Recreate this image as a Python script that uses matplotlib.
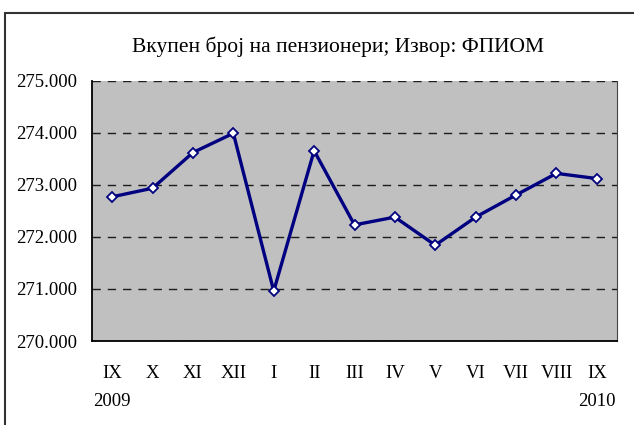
import numpy as np
import matplotlib
matplotlib.use("Agg")
import matplotlib.pyplot as plt
from matplotlib.patches import Rectangle
from matplotlib.ticker import FuncFormatter
import matplotlib.transforms as mtransforms

# data
months = ["IX", "X", "XI", "XII", "I", "II", "III", "IV", "V", "VI", "VII", "VIII", "IX"]
pensioners = [272770, 272935, 273620, 273990, 270960, 273655, 272230, 272380,
              271840, 272380, 272805, 273220, 273120]
year_labels = {0: "2009", 12: "2010"}
title = "Вкупен број на пензионери; Извор: ФПИОМ"

plt.rcParams["font.family"] = ["Liberation Serif", "DejaVu Serif"]
plt.rcParams["font.size"] = 13.5

fig = plt.figure(figsize=(6.34, 4.25), dpi=100)
ax = fig.add_axes([92 / 634, 1 - 341 / 425, 525 / 634, (341 - 80.7) / 425])

# outer chart frame
fig.patches.append(Rectangle((4.5 / 634, -0.05), 1.2, 1 - 13.3 / 425 + 0.05,
                             transform=fig.transFigure, fill=False,
                             edgecolor="#333333", linewidth=1.5))

x = np.arange(len(months))
ax.set_facecolor("#c0c0c0")
ax.plot(x, pensioners, color="#000080", linewidth=2.4, marker="D",
        markersize=5.5, markerfacecolor="white", markeredgecolor="#000080",
        markeredgewidth=1.3, zorder=3)

ax.set_xlim(-0.5, len(months) - 0.5)
ax.set_ylim(270000, 275000)
ax.set_yticks(np.arange(270000, 275001, 1000))
ax.yaxis.set_major_formatter(FuncFormatter(lambda v, p: f"{int(v):,}".replace(",", ".")))
ax.set_xticks(x)
ax.set_xticklabels(months)
ax.tick_params(axis="y", length=0, pad=11)
ax.tick_params(axis="x", length=0, pad=17)

ax.grid(axis="y", color="black", linestyle=(0, (6, 5)), linewidth=1.0, alpha=0.85)
ax.set_axisbelow(True)
ax.spines["top"].set_visible(False)
ax.spines["right"].set_color("#444444")
ax.spines["left"].set_linewidth(1.3)
ax.spines["bottom"].set_linewidth(1.3)

trans = mtransforms.blended_transform_factory(ax.transData, fig.transFigure)
for i, yr in year_labels.items():
    ax.text(i, 1 - 402 / 425, yr, transform=trans, ha="center", va="center")

fig.text(338 / 634, 1 - 47 / 425, title, ha="center", va="center", fontsize=15.5)

fig.savefig("out.png", dpi=100)
